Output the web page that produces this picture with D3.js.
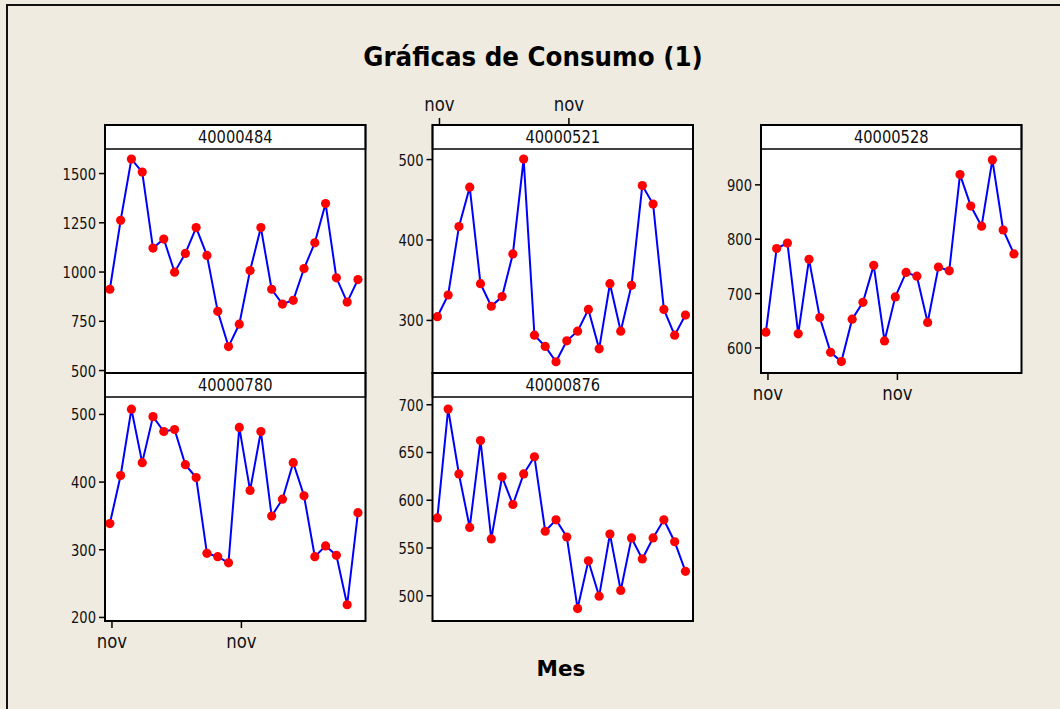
<!DOCTYPE html>
<html>
<head>
<meta charset="utf-8">
<script src="https://cdn.jsdelivr.net/npm/d3@7"></script>
<style>
  body { margin: 0; background: #efebe1; }
  svg { display: block; }
</style>
</head>
<body>
<div id="chart"></div>
<script>
// monthly consumption per meter, 24 readings each
const meters = ['40000484', '40000521', '40000528', '40000780', '40000876'];

const m484 = [910, 1260, 1571, 1505, 1119, 1165, 997, 1092, 1223, 1082, 798, 619,
              733, 1005, 1223, 910, 835, 854, 1015, 1146, 1345, 968, 845, 959];
const m521 = [304, 331, 416, 465, 345, 317, 329, 382, 500, 281, 267, 248,
              274, 286, 313, 264, 345, 286, 343, 467, 444, 313, 281, 306];
const m528 = [628, 782, 792, 625, 762, 655, 591, 574, 652, 683, 751, 612,
              693, 738, 731, 646, 748, 741, 918, 860, 823, 945, 816, 772];
const m780 = [338, 409, 507, 428, 496, 474, 477, 425, 406, 294, 289, 280,
              480, 387, 474, 349, 374, 428, 379, 289, 305, 291, 218, 354];
const m876 = [581, 695, 627, 571, 662, 559, 624, 595, 627, 645, 567, 579,
              561, 486, 536, 499, 564, 505, 560, 538, 560, 579, 556, 525];

const series = [m484, m521, m528, m780, m876];

const yTicks = [
  [500, 750, 1000, 1250, 1500],
  [300, 400, 500],
  [600, 700, 800, 900],
  [200, 300, 400, 500],
  [500, 550, 600, 650, 700]
];
const yDomains = [[485, 1622], [234, 512.5], [553, 965], [194, 525], [473, 707.6]];

// "nov" marks (month index along the series)
const monthTicks = [0.15, 12.15];
const monthLabels = ['nov', 'nov'];

const width = 1060, height = 709;
const font = "'DejaVu Sans', Verdana, sans-serif";

const svg = d3.select('#chart').append('svg')
    .attr('width', width)
    .attr('height', height);

svg.append('rect')
    .attr('width', width).attr('height', height)
    .attr('fill', '#efebe1');

svg.append('rect')
    .attr('x', 7).attr('y', 5)
    .attr('width', width + 20).attr('height', height + 20)
    .attr('fill', 'none')
    .attr('stroke', '#111')
    .attr('stroke-width', 2);

// title
svg.append('text')
    .attr('transform', 'translate(533, 66) scale(1, 1.06)')
    .attr('text-anchor', 'middle')
    .attr('font-family', font)
    .attr('font-weight', 'bold')
    .attr('font-size', '24.6px')
    .attr('fill', '#000')
    .text('Gráficas de Consumo (1)');

svg.append('text')
    .attr('x', 561)
    .attr('y', 676)
    .attr('text-anchor', 'middle')
    .attr('font-family', font)
    .attr('font-weight', 'bold')
    .attr('font-size', '21.5px')
    .attr('fill', '#000')
    .text('Mes');

// panel grid
const colX = [105, 432.5, 761];
const rowY = [125, 373];
const panelW = 260.5;
const stripH = 24;
const plotH = 224;

// which panels get an x axis: 'top', 'bottom' or none
const xAxisSide = ['none', 'top', 'bottom', 'bottom', 'none'];

const x = d3.scaleLinear()
    .domain([-0.45, 23.7])
    .range([0, panelW]);

meters.forEach((id, i) => {
  const col = i % 3, row = Math.floor(i / 3);
  const g = svg.append('g')
      .attr('transform', `translate(${colX[col]}, ${rowY[row]})`);

  const y = d3.scaleLinear()
      .domain(yDomains[i])
      .range([stripH + plotH, stripH]);

  // plot area
  g.append('rect')
      .attr('x', 0).attr('y', stripH)
      .attr('width', panelW).attr('height', plotH)
      .attr('fill', '#fff');

  // y axis
  g.append('g')
      .call(d3.axisLeft(y).tickValues(yTicks[i]).tickSize(6).tickFormat(d3.format('d')))
      .call(a => a.select('.domain').remove())
      .call(a => a.selectAll('line').attr('stroke', '#000').attr('stroke-width', 1.5))
      .call(a => a.selectAll('text')
          .attr('x', null).attr('dy', null)
          .attr('transform', 'translate(-9, 6) scale(1, 1.13)')
          .attr('font-family', font)
          .attr('font-stretch', 'condensed')
          .attr('font-size', '14.6px')
          .attr('fill', '#111'));

  // x axis
  if (xAxisSide[i] !== 'none') {
    const top = xAxisSide[i] === 'top';
    const axis = (top ? d3.axisTop(x) : d3.axisBottom(x))
        .tickValues(monthTicks)
        .tickFormat((d, k) => monthLabels[k])
        .tickSize(7);
    g.append('g')
        .attr('transform', `translate(0, ${top ? 0 : stripH + plotH})`)
        .call(axis)
        .call(a => a.select('.domain').remove())
        .call(a => a.selectAll('line').attr('stroke', '#000').attr('stroke-width', 1.5))
        .call(a => a.selectAll('text')
            .attr('y', null).attr('dy', null)
            .attr('transform', `translate(0, ${top ? -14.5 : 27}) scale(1, 1.16)`)
            .attr('font-family', font)
            .attr('font-size', '16.5px')
            .attr('fill', '#111'));
  }

  // series line and points
  const line = d3.line()
      .x((d, k) => x(k))
      .y(d => y(d));

  g.append('path')
      .datum(series[i])
      .attr('d', line)
      .attr('fill', 'none')
      .attr('stroke', '#0000ff')
      .attr('stroke-width', 2);

  g.selectAll('circle')
      .data(series[i])
      .join('circle')
      .attr('cx', (d, k) => x(k))
      .attr('cy', d => y(d))
      .attr('r', 4.6)
      .attr('fill', '#ff0000');

  // strip header
  g.append('rect')
      .attr('x', 0).attr('y', 0)
      .attr('width', panelW).attr('height', stripH)
      .attr('fill', '#fff')
      .attr('stroke', '#000')
      .attr('stroke-width', 1.5);

  g.append('text')
      .attr('transform', `translate(${panelW / 2}, 18.3) scale(1, 1.1)`)
      .attr('text-anchor', 'middle')
      .attr('font-family', font)
      .attr('font-stretch', 'condensed')
      .attr('font-size', '16.3px')
      .attr('fill', '#111')
      .text(id);

  // panel frame
  g.append('rect')
      .attr('x', 0).attr('y', 0)
      .attr('width', panelW).attr('height', stripH + plotH)
      .attr('fill', 'none')
      .attr('stroke', '#000')
      .attr('stroke-width', 2);
});
</script>
</body>
</html>
